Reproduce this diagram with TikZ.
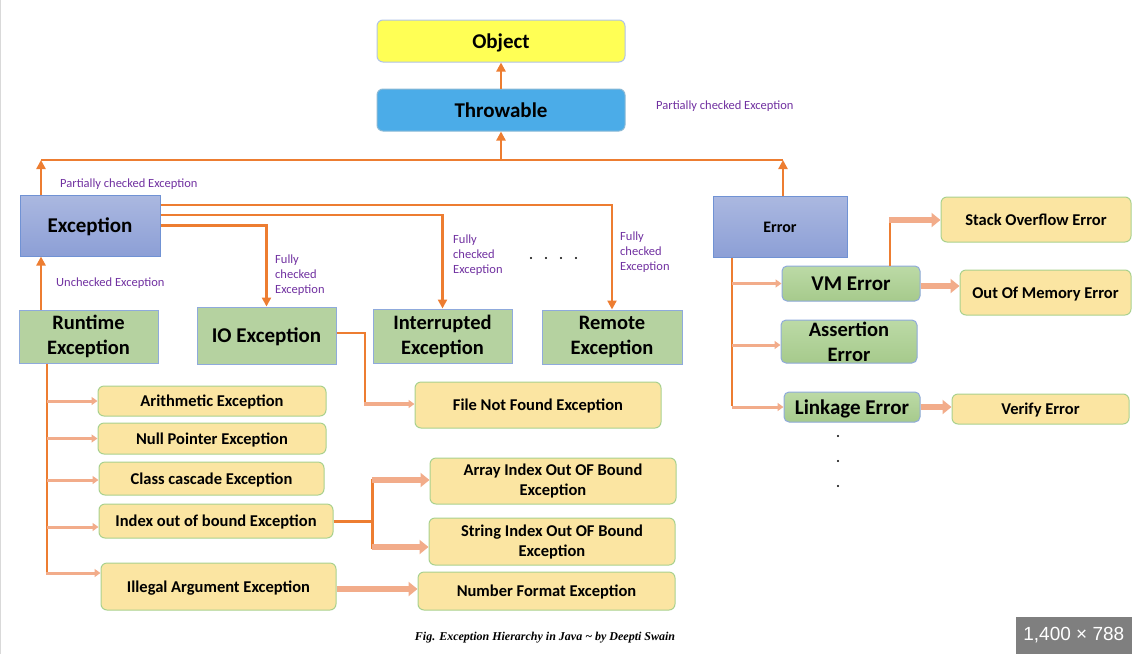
\documentclass[tikz,border=0pt]{standalone}
\usepackage{fontspec}
\setmainfont{Carlito}
\newfontfamily\capfont{Liberation Serif}
\newfontfamily\badgefont{Liberation Sans}
\usetikzlibrary{arrows.meta}

\definecolor{orln}{HTML}{ED7D31}
\definecolor{salm}{HTML}{F2AC8A}
\definecolor{objyel}{HTML}{FFFF55}
\definecolor{thrblue}{HTML}{4BACE8}
\definecolor{exctop}{HTML}{ABB8E0}
\definecolor{excbot}{HTML}{8C9FD6}
\definecolor{excline}{HTML}{7092D4}
\definecolor{grnfill}{HTML}{B5D2A0}
\definecolor{grntop}{HTML}{BCDAA6}
\definecolor{grnbot}{HTML}{A6CA8C}
\definecolor{grnline}{HTML}{8FAADC}
\definecolor{yelfill}{HTML}{FBE5A2}
\definecolor{yelline}{HTML}{A9D18E}
\definecolor{lblpurple}{HTML}{7030A0}
\definecolor{badgegray}{HTML}{7F7F7F}

\tikzset{
  basebox/.style={draw, inner sep=0pt, align=center, line width=1pt},
  bigtext/.style={text height=17pt, text depth=2.4pt},
  midtext/.style={text height=13pt, text depth=2pt},
  topbox/.style={basebox, rounded corners=6pt, draw=excline!55, bigtext, font=\bfseries\fontsize{21}{24}\selectfont},
  parentbox/.style={basebox, draw=excline, top color=exctop, bottom color=excbot},
  subbox/.style={basebox, fill=grnfill, draw=grnline, font=\bfseries\fontsize{20.5}{25}\selectfont},
  errsub/.style={subbox, rounded corners=5pt, top color=grntop, bottom color=grnbot},
  leafbox/.style={basebox, rounded corners=6pt, fill=yelfill, draw=yelline, font=\bfseries\fontsize{16.5}{20}\selectfont},
  oneleaf/.style={leafbox, midtext},
  orline/.style={draw=orln, line width=2.5pt},
  orarrow/.style={orline, -{Triangle[length=9pt,width=9pt]}},
  smallarrow/.style={draw=salm, line width=3pt, -{Triangle[length=6pt,width=8pt]}},
  bigarrow/.style={draw=salm, line width=6pt, -{Triangle[length=9pt,width=14pt]}},
  lbl/.style={text=lblpurple, font=\fontsize{12.5}{15}\selectfont, inner sep=0pt, anchor=west, align=left}
}

\begin{document}
\begin{tikzpicture}[x=1pt, y=-1pt]
  \useasboundingbox (0,0) rectangle (1132,654);
  \draw[black!15] (0.5,0) -- (0.5,654);

  % Top classes
  \node[topbox, fill=objyel, minimum width=248pt, minimum height=42pt] (obj) at (501,41) {Object};
  \node[topbox, fill=thrblue, draw=thrblue!80!black!60, minimum width=248pt, minimum height=42pt] (thr) at (501,110) {Throwable};

  % Exception and Error
  \node[parentbox, bigtext, minimum width=140pt, minimum height=61pt, font=\bfseries\fontsize{21}{24}\selectfont] (exc) at (90,225.5) {Exception};
  \node[parentbox, midtext, minimum width=134pt, minimum height=61pt, font=\bfseries\fontsize{16}{19}\selectfont] (err) at (780,226.5) {Error};

  % Exception subclasses
  \node[subbox, minimum width=139pt, minimum height=53pt] (rte) at (88.5,336.5) {Runtime\\Exception};
  \node[subbox, bigtext, minimum width=139pt, minimum height=57pt, font=\bfseries\fontsize{21}{25}\selectfont] (ioe) at (266.5,335.5) {IO Exception};
  \node[subbox, minimum width=139pt, minimum height=54pt] (ine) at (442.5,336) {Interrupted\\Exception};
  \node[subbox, minimum width=140pt, minimum height=54pt] (rme) at (612,337) {Remote\\Exception};

  % Error subclasses
  \node[errsub, bigtext, minimum width=138pt, minimum height=35pt, font=\bfseries\fontsize{21}{25}\selectfont] (vme) at (851,283.5) {VM Error};
  \node[errsub, minimum width=136pt, minimum height=43pt, font=\bfseries\fontsize{20.5}{25}\selectfont] (ase) at (849,341.5) {Assertion\\Error};
  \node[errsub, bigtext, minimum width=136pt, minimum height=30pt, font=\bfseries\fontsize{21}{25}\selectfont] (lke) at (852,407) {Linkage Error};
  \node[oneleaf, minimum width=190pt, minimum height=45pt] (soe) at (1036,219.5) {Stack Overflow Error};
  \node[oneleaf, minimum width=171pt, minimum height=45pt] (ome) at (1045.5,292.5) {Out Of Memory Error};
  \node[oneleaf, minimum width=177pt, minimum height=30pt] (vfe) at (1040.5,409) {Verify Error};

  % Runtime subclasses
  \node[oneleaf, minimum width=228pt, minimum height=30pt] (ari) at (212,401) {Arithmetic Exception};
  \node[oneleaf, minimum width=228pt, minimum height=31pt] (nul) at (212,438.5) {Null Pointer Exception};
  \node[oneleaf, minimum width=225pt, minimum height=33pt] (cls) at (211.5,478.5) {Class cascade Exception};
  \node[oneleaf, minimum width=234pt, minimum height=34pt] (idx) at (216,521) {Index out of bound Exception};
  \node[oneleaf, minimum width=235pt, minimum height=47pt] (ill) at (218.5,586.5) {Illegal Argument Exception};
  \node[oneleaf, minimum width=246pt, minimum height=46pt] (fnf) at (538,405) {File Not Found Exception};
  \node[leafbox, minimum width=246pt, minimum height=46pt] (aio) at (553,481) {Array Index Out OF Bound\\Exception};
  \node[leafbox, minimum width=246pt, minimum height=47pt] (sio) at (552,541.5) {String Index Out OF Bound\\Exception};
  \node[oneleaf, minimum width=257pt, minimum height=38pt] (nfe) at (546.5,591) {Number Format Exception};

  % Bus to Throwable
  \coordinate (busL) at (41,160);
  \coordinate (busM) at (501,160);
  \coordinate (busR) at (783,160);
  \draw[orarrow] (thr.north) -- (obj.south);
  \draw[orline] (busL) -- (busR);
  \draw[orarrow] (busM) -- (thr.south);
  \draw[orarrow] (exc.north -| busL) -- (busL);
  \draw[orarrow] (err.north -| busR) -- (busR);
  \draw[orarrow] (rte.north -| busL) -- (exc.south -| busL);

  % Checked exceptions
  \draw[orarrow] (exc.east) -| (ioe.north);
  \draw[orarrow] ([yshift=10.5pt]exc.east) -| (ine.north);
  \draw[orarrow] ([yshift=20.5pt]exc.east) -| (rme.north);

  % Error branch
  \coordinate (ebr) at (732,406);
  \coordinate (vmup) at (890,220);
  \draw[orline] (err.south -| ebr) -- (ebr);
  \draw[smallarrow] (vme.west -| ebr) -- (vme.west);
  \draw[smallarrow] (ebr |- 0,345) -- (ase.west |- 0,345);
  \draw[smallarrow] (lke.west -| ebr) -- (lke.west);
  \draw[orline] (vme.north -| vmup) -- (vmup);
  \draw[bigarrow] ([xshift=-1.25pt]vmup) -- (soe.west |- vmup);
  \draw[bigarrow] (vme.east |- 0,286) -- (ome.west |- 0,286);
  \draw[bigarrow] (lke.east) -- (vfe.west |- lke.east);

  % Runtime branch
  \coordinate (rbr) at (47,573);
  \draw[orline] (rte.south -| rbr) -- (rbr);
  \draw[smallarrow] (ari.west -| rbr) -- (ari.west);
  \draw[smallarrow] (nul.west -| rbr) -- (nul.west);
  \draw[smallarrow] (rbr |- 0,480) -- (cls.west |- 0,480);
  \draw[smallarrow] (rbr |- 0,527) -- (idx.west |- 0,527);
  \draw[smallarrow] ([xshift=-1.25pt]rbr) -- (ill.west |- rbr);

  % IO and index branches
  \coordinate (iobr) at (365,404);
  \draw[orline] (ioe.east |- 0,333) -| (iobr);
  \draw[smallarrow, line width=4pt] ([xshift=-1.25pt]iobr) -- (fnf.west |- iobr);
  \coordinate (ibr) at (372,521);
  \draw[orline, line width=3pt] (idx.east) -- (ibr);
  \draw[orline, line width=3pt] (ibr |- 0,479) -- (ibr |- 0,549);
  \draw[bigarrow] (ibr |- 0,480) -- (aio.west |- 0,480);
  \draw[bigarrow] (ibr |- 0,547) -- (sio.west |- 0,547);
  \draw[bigarrow] (ill.east |- 0,589) -- (nfe.west |- 0,589);

  % Labels
  \node[lbl] (lblA) at (60,184) {Partially checked Exception};
  \node[lbl] (lblB) at (656,106) {Partially checked Exception};
  \node[lbl] (lblC) at (56,283) {Unchecked Exception};
  \node[lbl] (lblD) at (275,275) {Fully\\checked\\Exception};
  \node[lbl] (lblE) at (453,255) {Fully\\checked\\Exception};
  \node[lbl] (lblF) at (620,252) {Fully\\checked\\Exception};

  % Dots
  \foreach \dx in {531,546,561,576}
    \fill (\dx,258) circle (1.2pt);
  \foreach \dy in {436,461,486}
    \fill (838,\dy) circle (1.2pt);

  % Caption and badge
  \node[font=\capfont\bfseries\itshape\fontsize{12}{14}\selectfont, inner sep=0pt] (cap) at (545,638) {Fig. Exception Hierarchy in Java \textasciitilde{} by Deepti Swain};
  \node[fill=badgegray, text=white, minimum width=116pt, minimum height=37pt, inner sep=0pt, anchor=south east, font=\badgefont\fontsize{19}{22}\selectfont] (badge) at (1132,654) {1,400 × 788};
\end{tikzpicture}
\end{document}
